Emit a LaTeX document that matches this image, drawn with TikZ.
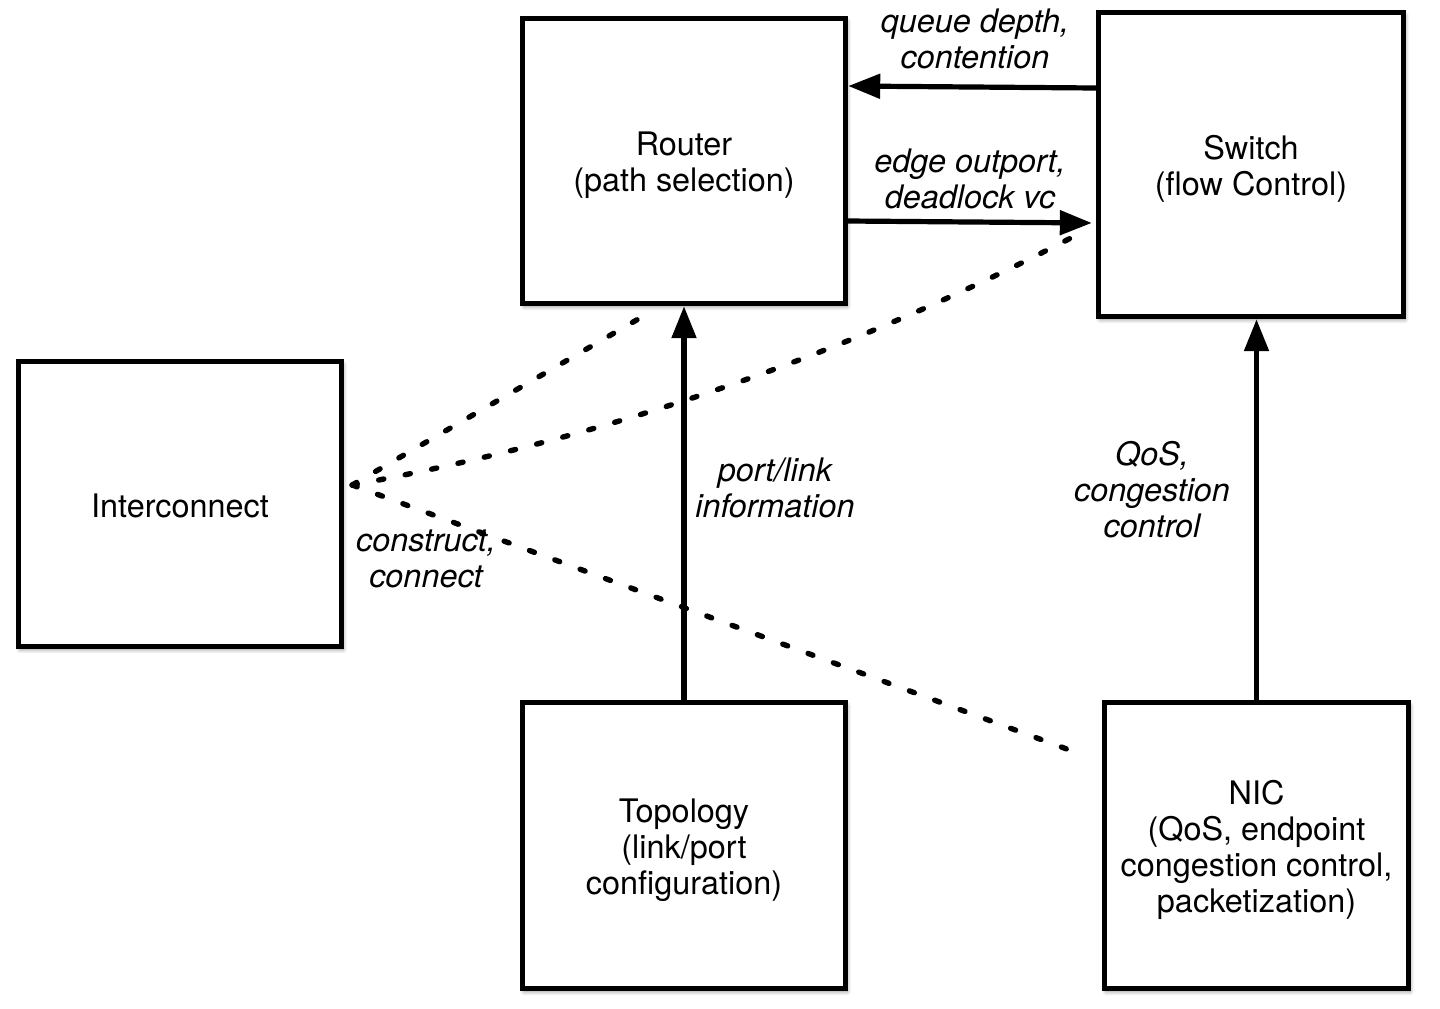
\documentclass[tikz,border=0pt]{standalone}
\usepackage{fontspec}
\setmainfont{TeX Gyre Heros}
\usetikzlibrary{arrows.meta,shadows.blur}
\begin{document}
\begin{tikzpicture}[x=0.5pt,y=-0.5pt,
  box/.style={draw,line width=2.7pt,fill=white,
    blur shadow={shadow xshift=0.8pt,shadow yshift=-1.5pt,shadow blur steps=6,shadow opacity=45}},
  boxtext/.style={align=center,font=\fontsize{16.2}{18}\selectfont,yshift=-2.3pt},
  lbl/.style={align=center,font=\fontsize{16.2}{18}\selectfont\itshape},
  arr/.style={line width=2.6pt,-{Triangle[length=16pt,width=12pt]}},
  dotl/.style={line width=2.7pt,line cap=round,dash pattern=on 2.6pt off 10.9pt}]
\useasboundingbox (0,0) rectangle (1440,1008);

\node[box,minimum width=161.5pt,minimum height=142.5pt,
  label={[boxtext]center:{Router\\(path selection)}}] (router) at (684,161) {};
\node[box,minimum width=152.5pt,minimum height=152pt,
  label={[boxtext]center:{Switch\\(flow Control)}}] (switch) at (1251,164.5) {};
\node[box,minimum width=161.5pt,minimum height=142.5pt,
  label={[boxtext,yshift=1.3pt]center:{Interconnect}}] (inter) at (180,504) {};
\node[box,minimum width=161.5pt,minimum height=143pt,
  label={[boxtext]center:{Topology\\(link/port\\configuration)}}] (topo) at (684,845.5) {};
\node[box,minimum width=152pt,minimum height=143pt,
  label={[boxtext]center:{NIC\\(QoS, endpoint\\congestion control,\\packetization)}}] (nic) at (1256.5,845.5) {};

% solid arrows
\draw[arr] (switch.west |- 0,88) -- (router.east |- 0,86);
\draw[arr,shorten >=2pt] (router.east |- 0,221) -- (switch.west |- 0,223);
\draw[arr] (topo.north) -- (router.south);
\draw[arr] (nic.north) -- (nic.north |- switch.south);

% dotted connectors
\path (inter.east |- 0,485) ++(4pt,0) coordinate (ic);
\coordinate (e1) at (640,318);
\coordinate (e2) at (1088,229);
\coordinate (e3) at (1083,755);
\draw[dotl] (ic) -- (e1);
\draw[dotl] (ic) .. controls (609,438) and (855,352) .. (e2);
\draw[dotl] (ic) -- (e3);

% labels
\node[lbl] (l1) at (975,39) {queue depth,\\contention};
\node[lbl] (l2) at (970,179) {edge outport,\\deadlock vc};
\node[lbl] (l3) at (775,488) {port/link\\information};
\node[lbl] (l4) at (1152,490) {QoS,\\congestion\\control};
\node[lbl] (l5) at (426,559) {construct,\\connect};
\end{tikzpicture}
\end{document}
